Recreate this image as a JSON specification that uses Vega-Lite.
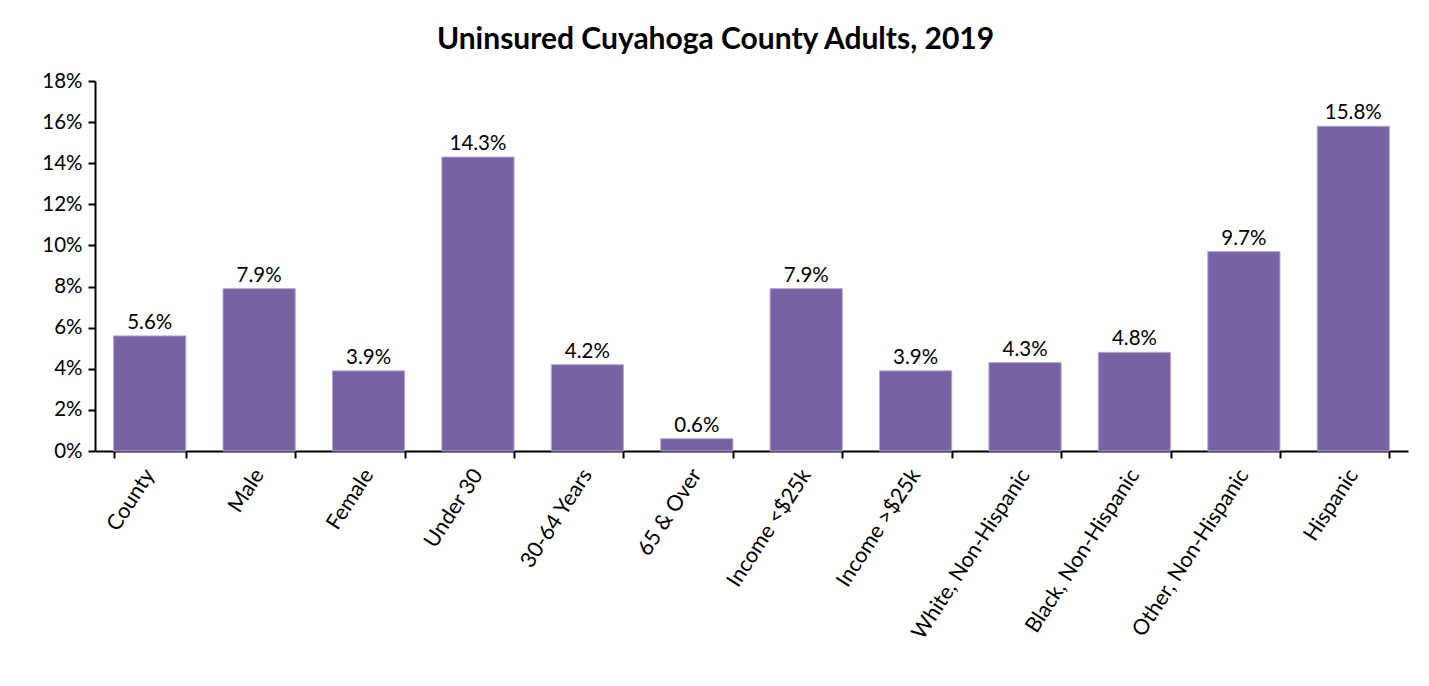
{
  "$schema": "https://vega.github.io/schema/vega-lite/v6.json",
  "autosize": "none",
  "width": 1313,
  "height": 370,
  "padding": {"left": 95, "top": 81, "right": 21, "bottom": 235},
  "background": "white",
  "title": {
    "text": "Uninsured Cuyahoga County Adults, 2019",
    "font": "Lato",
    "fontSize": 30,
    "fontWeight": "bold",
    "color": "#000000",
    "anchor": "middle",
    "dx": -36,
    "offset": 16
  },
  "data": {
    "values": [
      {"group": "County", "rate": 0.056},
      {"group": "Male", "rate": 0.079},
      {"group": "Female", "rate": 0.039},
      {"group": "Under 30", "rate": 0.143},
      {"group": "30-64 Years", "rate": 0.042},
      {"group": "65 & Over", "rate": 0.006},
      {"group": "Income <$25k", "rate": 0.079},
      {"group": "Income >$25k", "rate": 0.039},
      {"group": "White, Non-Hispanic", "rate": 0.043},
      {"group": "Black, Non-Hispanic", "rate": 0.048},
      {"group": "Other, Non-Hispanic", "rate": 0.097},
      {"group": "Hispanic", "rate": 0.158}
    ]
  },
  "encoding": {
    "x": {
      "field": "group",
      "type": "nominal",
      "sort": null,
      "title": null,
      "scale": {"paddingInner": 0.34, "paddingOuter": 0.17},
      "axis": {
        "labelAngle": -57,
        "labelFont": "Lato",
        "labelFontSize": 21.5,
        "labelColor": "#000000",
        "labelPadding": 13,
        "labelLimit": 400,
        "domainColor": "#000000",
        "domainWidth": 2,
        "tickColor": "#000000",
        "tickWidth": 2,
        "tickSize": 7,
        "tickBand": "extent"
      }
    },
    "y": {
      "field": "rate",
      "type": "quantitative",
      "title": null,
      "scale": {"domain": [0, 0.18]},
      "axis": {
        "format": ".0%",
        "values": [0, 0.02, 0.04, 0.06, 0.08, 0.1, 0.12, 0.14, 0.16, 0.18],
        "grid": false,
        "labelFont": "Lato",
        "labelFontSize": 20.5,
        "labelColor": "#000000",
        "labelPadding": 6,
        "domainColor": "#000000",
        "domainWidth": 2,
        "tickColor": "#000000",
        "tickWidth": 2,
        "tickSize": 7
      }
    }
  },
  "layer": [
    {
      "mark": {"type": "bar", "color": "#7763A1", "stroke": "#B5A8D3", "strokeWidth": 1}
    },
    {
      "mark": {"type": "text", "baseline": "bottom", "dy": -3, "font": "Lato", "fontSize": 20.5, "color": "#000000"},
      "encoding": {"text": {"field": "rate", "type": "quantitative", "format": ".1%"}}
    }
  ],
  "config": {"view": {"stroke": null}}
}
